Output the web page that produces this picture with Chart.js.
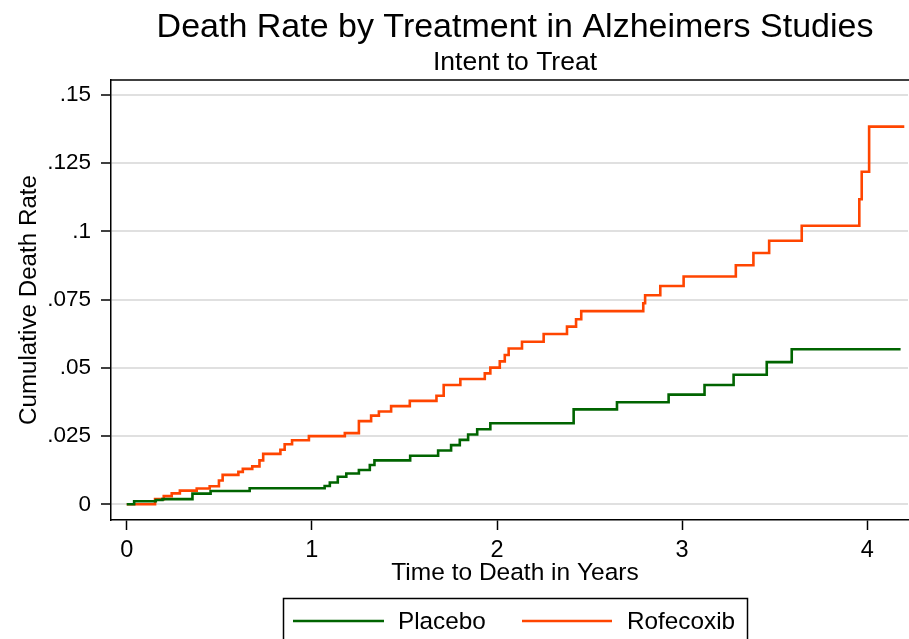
<!DOCTYPE html>
<html>
<head>
<meta charset="utf-8">
<title>Death Rate by Treatment in Alzheimers Studies</title>
<script src="https://cdn.jsdelivr.net/npm/chart.js@4.4.1/dist/chart.umd.min.js"></script>
<style>
  html, body { margin: 0; padding: 0; background: #ffffff; }
  #wrap { width: 909px; height: 639px; position: relative; }
</style>
</head>
<body>
<div id="wrap"><canvas id="chart" width="909" height="639"></canvas></div>
<script>
// Kaplan-Meier style cumulative death rate, step times in years
const placeboTimes = [0, 0.040, 0.157, 0.193, 0.355, 0.453, 0.664, 1.069, 1.097, 1.140,
  1.186, 1.254, 1.313, 1.338, 1.531, 1.682, 1.752, 1.799, 1.844, 1.893,
  1.964, 2.414, 2.648, 2.927, 3.121, 3.278, 3.457, 3.592, 4.180];
const placeboRates = [0, 0.0011, 0.0016, 0.0019, 0.0039, 0.0049, 0.0059, 0.0067, 0.0080, 0.0101,
  0.0113, 0.0126, 0.0144, 0.0161, 0.0178, 0.0197, 0.0217, 0.0236, 0.0256, 0.0275,
  0.0297, 0.0348, 0.0374, 0.0402, 0.0437, 0.0475, 0.0521, 0.0568, 0.0568];

const rofecoxibTimes = [0, 0.153, 0.200, 0.243, 0.287, 0.378, 0.448, 0.498, 0.518, 0.603,
  0.627, 0.678, 0.717, 0.737, 0.830, 0.853, 0.893, 0.984, 1.178, 1.254,
  1.320, 1.362, 1.428, 1.529, 1.673, 1.712, 1.802, 1.934, 1.964, 2.015,
  2.042, 2.063, 2.135, 2.252, 2.378, 2.427, 2.455, 2.790, 2.800, 2.882,
  3.008, 3.290, 3.385, 3.470, 3.646, 3.957, 3.970, 4.010, 4.200];
const rofecoxibRates = [0, 0.0019, 0.0030, 0.0040, 0.0050, 0.0058, 0.0066, 0.0087, 0.0108, 0.0119,
  0.0130, 0.0139, 0.0161, 0.0185, 0.0200, 0.0220, 0.0235, 0.0250, 0.0261, 0.0305,
  0.0325, 0.0340, 0.0360, 0.0379, 0.0398, 0.0437, 0.0459, 0.0480, 0.0501, 0.0524,
  0.0547, 0.0571, 0.0596, 0.0624, 0.0651, 0.0678, 0.0708, 0.0737, 0.0766, 0.0800,
  0.0835, 0.0876, 0.0921, 0.0966, 0.1021, 0.1118, 0.1219, 0.1384, 0.1384];

const xTickValues = [0, 1, 2, 3, 4];
const xTickLabels = ['0', '1', '2', '3', '4'];
const yTickValues = [0, 0.025, 0.05, 0.075, 0.1, 0.125, 0.15];
const yTickLabels = ['0', '.025', '.05', '.075', '.1', '.125', '.15'];

const seriesNames = ['Placebo', 'Rofecoxib'];
const seriesColors = ['#006400', '#ff4500'];

const titleText = 'Death Rate by Treatment in Alzheimers Studies';
const subtitleText = 'Intent to Treat';
const xTitle = 'Time to Death in Years';
const yTitle = 'Cumulative Death Rate';

const FONT = '"Liberation Sans", Arial, Helvetica, sans-serif';

function toPoints(times, rates) {
  return times.map((t, i) => ({ x: t, y: rates[i] }));
}

// Titles, axis titles, frame top edge and the boxed legend
const decorations = {
  id: 'decorations',
  afterDraw(chart) {
    const ctx = chart.ctx;
    const area = chart.chartArea;
    const cx = 515;
    ctx.save();
    ctx.fillStyle = '#000';
    ctx.textAlign = 'center';
    ctx.textBaseline = 'alphabetic';
    ctx.font = '34px ' + FONT;
    ctx.fillText(titleText, cx, 37);
    ctx.font = '26.5px ' + FONT;
    ctx.fillText(subtitleText, cx, 70);
    ctx.font = '24.5px ' + FONT;
    ctx.fillText(xTitle, cx, 580);

    ctx.save();
    ctx.translate(36, (area.top + area.bottom) / 2);
    ctx.rotate(-Math.PI / 2);
    ctx.font = '24.2px ' + FONT;
    ctx.fillText(yTitle, 0, 0);
    ctx.restore();

    // top edge of the plot frame
    ctx.strokeStyle = '#000';
    ctx.lineWidth = 1.5;
    ctx.beginPath();
    ctx.moveTo(area.left, area.top);
    ctx.lineTo(chart.width, area.top);
    ctx.stroke();

    // legend box
    ctx.lineWidth = 1.5;
    ctx.strokeRect(283.5, 598.5, 464, 60);
    const ly = 621;
    ctx.lineWidth = 2.6;
    ctx.strokeStyle = seriesColors[0];
    ctx.beginPath(); ctx.moveTo(293, ly); ctx.lineTo(384, ly); ctx.stroke();
    ctx.strokeStyle = seriesColors[1];
    ctx.beginPath(); ctx.moveTo(522, ly); ctx.lineTo(612, ly); ctx.stroke();
    ctx.font = '24.3px ' + FONT;
    ctx.textAlign = 'left';
    ctx.textBaseline = 'middle';
    ctx.fillStyle = '#000';
    ctx.fillText(seriesNames[0], 398, ly + 1);
    ctx.fillText(seriesNames[1], 627, ly + 1);
    ctx.restore();
  }
};

new Chart(document.getElementById('chart'), {
  type: 'line',
  data: {
    datasets: [
      {
        label: seriesNames[0],
        data: toPoints(placeboTimes, placeboRates),
        borderColor: seriesColors[0],
        borderWidth: 2.6,
        stepped: 'before',
        pointRadius: 0,
        fill: false
      },
      {
        label: seriesNames[1],
        data: toPoints(rofecoxibTimes, rofecoxibRates),
        borderColor: seriesColors[1],
        borderWidth: 2.6,
        stepped: 'before',
        pointRadius: 0,
        fill: false
      }
    ]
  },
  options: {
    responsive: false,
    animation: false,
    layout: { padding: { top: 80, right: 1, bottom: 0, left: 0 } },
    plugins: {
      legend: { display: false },
      title: { display: false },
      tooltip: { enabled: false }
    },
    scales: {
      x: {
        type: 'linear',
        min: -0.085,
        max: 4.22,
        afterFit(scale) { scale.height = 119; },
        afterBuildTicks(scale) { scale.ticks = xTickValues.map(v => ({ value: v })); },
        ticks: {
          autoSkip: false,
          maxRotation: 0,
          padding: 6,
          color: '#000',
          font: { family: FONT, size: 23.5 },
          callback: (v) => xTickLabels[xTickValues.indexOf(v)] ?? ''
        },
        grid: {
          drawOnChartArea: false,
          drawTicks: true,
          tickLength: 10,
          tickColor: '#000',
          tickWidth: 1.5
        },
        border: { display: true, color: '#000', width: 1.5 }
      },
      y: {
        type: 'linear',
        min: -0.00575,
        max: 0.1555,
        afterFit(scale) { scale.width = 111; },
        afterBuildTicks(scale) { scale.ticks = yTickValues.map(v => ({ value: v })); },
        ticks: {
          autoSkip: false,
          padding: 10,
          color: '#000',
          font: { family: FONT, size: 22.5 },
          callback: (v) => yTickLabels[yTickValues.indexOf(v)] ?? ''
        },
        grid: {
          color: '#e0e0e0',
          lineWidth: 2,
          drawTicks: true,
          tickLength: 10,
          tickColor: '#000',
          tickWidth: 1.5
        },
        border: { display: true, color: '#000', width: 1.5 }
      }
    }
  },
  plugins: [decorations]
});
</script>
</body>
</html>
